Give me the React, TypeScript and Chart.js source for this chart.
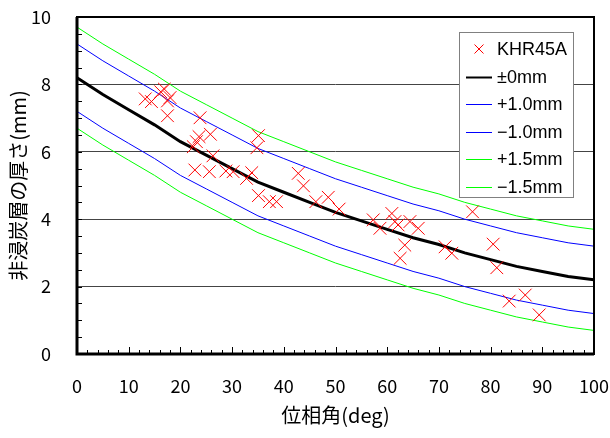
import React, { useEffect, useRef } from "react";
import { Chart, registerables } from "chart.js";

Chart.register(...registerables);

// Measured points (phase angle deg, thickness mm)
const khrX = [13.2, 14.4, 16.2, 16.9, 17.5, 18.0, 17.5, 22.5, 23.1, 23.6, 23.8, 25.8, 26.3, 22.8, 25.6, 28.8, 30.2, 32.8, 33.8, 35.1, 34.8, 35.1, 37.2, 38.6, 42.8, 43.8, 46.2, 48.6, 50.7, 57.3, 58.6, 60.9, 61.5, 62.1, 64.4, 66.0, 63.4, 62.5, 71.2, 72.5, 76.5, 80.5, 81.2, 83.6, 86.7, 89.4];
const khrY = [7.57, 7.49, 7.78, 7.86, 7.51, 7.61, 7.07, 6.15, 6.3, 6.45, 7.01, 6.52, 5.88, 5.46, 5.41, 5.43, 5.41, 5.21, 5.38, 6.48, 6.12, 4.7, 4.52, 4.52, 5.36, 4.99, 4.52, 4.65, 4.3, 3.98, 3.73, 4.17, 3.93, 3.83, 3.93, 3.73, 3.23, 2.84, 3.18, 2.99, 4.22, 3.26, 2.56, 1.57, 1.75, 1.16];

// Reference curves
const curveX = [0, 5, 10, 15, 20, 25, 30, 35, 40, 45, 50, 55, 60, 65, 70, 75, 80, 85, 90, 95, 100];
const zero = [8.2, 7.7, 7.25, 6.8, 6.3, 5.9, 5.5, 5.1, 4.8, 4.5, 4.2, 3.95, 3.7, 3.45, 3.25, 3.0, 2.8, 2.6, 2.45, 2.3, 2.2];
const plus10 = [9.2, 8.7, 8.25, 7.8, 7.3, 6.9, 6.5, 6.1, 5.8, 5.5, 5.2, 4.95, 4.7, 4.45, 4.25, 4.0, 3.8, 3.6, 3.45, 3.3, 3.2];
const minus10 = [7.2, 6.7, 6.25, 5.8, 5.3, 4.9, 4.5, 4.1, 3.8, 3.5, 3.2, 2.95, 2.7, 2.45, 2.25, 2.0, 1.8, 1.6, 1.45, 1.3, 1.2];
const plus15 = [9.7, 9.2, 8.75, 8.3, 7.8, 7.4, 7.0, 6.6, 6.3, 6.0, 5.7, 5.45, 5.2, 4.95, 4.75, 4.5, 4.3, 4.1, 3.95, 3.8, 3.7];
const minus15 = [6.7, 6.2, 5.75, 5.3, 4.8, 4.4, 4.0, 3.6, 3.3, 3.0, 2.7, 2.45, 2.2, 1.95, 1.75, 1.5, 1.3, 1.1, 0.95, 0.8, 0.7];

const seriesLabels = ["KHR45A", "±0mm", "+1.0mm", "−1.0mm", "+1.5mm", "−1.5mm"];
const xTitle = "位相角(deg)";
const yTitle = "非浸炭層の厚さ(mm)";

const FONT = "'Noto Sans CJK JP', 'DejaVu Sans', sans-serif";
const LEGEND_FONT = "'Liberation Sans', Arial, sans-serif";

const pts = (xs: number[], ys: number[]) => xs.map((x, i) => ({ x, y: ys[i] }));

const framePlugin = {
  id: "frameTicks",
  afterDraw(chart: any) {
    const { ctx, chartArea: a, scales } = chart;
    const xs = scales.x;
    const ys = scales.y;
    ctx.save();
    // inward ticks
    ctx.strokeStyle = "#000";
    ctx.lineWidth = 1;
    for (let v = 0; v <= 100; v += 2) {
      const px = Math.round(xs.getPixelForValue(v)) + 0.5;
      const len = v % 10 === 0 ? 7 : 4;
      ctx.beginPath();
      ctx.moveTo(px, a.bottom);
      ctx.lineTo(px, a.bottom - len);
      ctx.stroke();
    }
    for (let v = 0; v <= 10; v += 0.5) {
      const py = Math.round(ys.getPixelForValue(v)) + 0.5;
      ctx.beginPath();
      ctx.moveTo(a.left, py);
      ctx.lineTo(a.left + 5, py);
      ctx.stroke();
    }
    // frame
    ctx.lineWidth = 2;
    ctx.strokeRect(a.left, a.top, a.right - a.left, a.bottom - a.top);
    ctx.lineWidth = 3;
    ctx.beginPath();
    ctx.moveTo(a.left, a.top);
    ctx.lineTo(a.left, a.bottom);
    ctx.lineTo(a.right, a.bottom);
    ctx.stroke();

    // legend
    const bx = 459, by = 32, bw = 114, bh = 165;
    ctx.fillStyle = "#fff";
    ctx.fillRect(bx, by, bw, bh);
    ctx.strokeStyle = "#808080";
    ctx.lineWidth = 1;
    ctx.strokeRect(bx + 0.5, by + 0.5, bw, bh);
    ctx.font = `18px ${LEGEND_FONT}`;
    ctx.textBaseline = "middle";
    ctx.textAlign = "left";
    chart.data.datasets.forEach((ds: any, i: number) => {
      const cy = by + 17 + i * 27.6;
      if (ds.showLine) {
        ctx.strokeStyle = ds.borderColor;
        ctx.lineWidth = ds.borderWidth > 1 ? 2 : 1;
        ctx.beginPath();
        ctx.moveTo(466, Math.round(cy) + 0.5);
        ctx.lineTo(492, Math.round(cy) + 0.5);
        ctx.stroke();
      } else {
        ctx.strokeStyle = ds.borderColor;
        ctx.lineWidth = 1;
        const r = 4.5;
        ctx.beginPath();
        ctx.moveTo(479 - r, cy - r);
        ctx.lineTo(479 + r, cy + r);
        ctx.moveTo(479 + r, cy - r);
        ctx.lineTo(479 - r, cy + r);
        ctx.stroke();
      }
      ctx.fillStyle = "#000";
      ctx.fillText(ds.label, 497, cy + 1);
    });
    ctx.restore();
  },
};

export default function App() {
  const ref = useRef<HTMLCanvasElement>(null);
  useEffect(() => {
    document.body.style.margin = "0";
    const lineDs = (label: string, ys: number[], color: string, w: number) => ({
      label,
      data: pts(curveX, ys),
      showLine: true,
      borderColor: color,
      backgroundColor: color,
      borderWidth: w,
      pointRadius: 0,
      pointHoverRadius: 0,
      tension: 0,
    });
    const chart = new Chart(ref.current!, {
      type: "scatter",
      data: {
        datasets: [
          {
            label: seriesLabels[0],
            data: pts(khrX, khrY),
            showLine: false,
            pointStyle: "crossRot",
            pointRadius: 9,
            borderColor: "#ff0000",
            backgroundColor: "#ff0000",
            borderWidth: 1,
          } as any,
          lineDs(seriesLabels[1], zero, "#000000", 3),
          lineDs(seriesLabels[2], plus10, "#0000ff", 1),
          lineDs(seriesLabels[3], minus10, "#0000ff", 1),
          lineDs(seriesLabels[4], plus15, "#00ff00", 1),
          lineDs(seriesLabels[5], minus15, "#00ff00", 1),
        ],
      },
      options: {
        animation: false,
        responsive: false,
        maintainAspectRatio: false,
        layout: { padding: { left: 0, right: 16, top: 17, bottom: 0 } },
        plugins: { legend: { display: false }, tooltip: { enabled: false } },
        scales: {
          x: {
            type: "linear",
            min: 0,
            max: 100,
            border: { display: false },
            grid: { display: false, drawTicks: false },
            ticks: { stepSize: 10, padding: 21, color: "#000", font: { family: FONT, size: 18 }, maxRotation: 0 },
            title: { display: true, text: xTitle, color: "#000", font: { family: FONT, size: 20 }, padding: { top: 0, bottom: 11 } },
            afterFit: (s: any) => { s.height = 84; s.paddingLeft = 0; s.paddingRight = 0; },
          },
          y: {
            type: "linear",
            min: 0,
            max: 10,
            border: { display: false },
            grid: {
              drawTicks: false,
              color: (c: any) => (c.tick && c.tick.value > 0 && c.tick.value < 10 ? "#444" : "rgba(0,0,0,0)"),
              lineWidth: 1,
            },
            ticks: { stepSize: 2, padding: 26, color: "#000", font: { family: FONT, size: 18 } },
            title: { display: true, text: yTitle, color: "#000", font: { family: FONT, size: 20 }, padding: { top: 6, bottom: 0 } },
            afterFit: (s: any) => { s.width = 77; s.paddingTop = 0; s.paddingBottom = 0; },
          },
        },
      } as any,
      plugins: [framePlugin],
    });
    return () => chart.destroy();
  }, []);
  return (
    <div style={{ position: "absolute", left: 0, top: 0, width: 610, height: 438 }}>
      <canvas ref={ref} width={610} height={438} />
    </div>
  );
}
